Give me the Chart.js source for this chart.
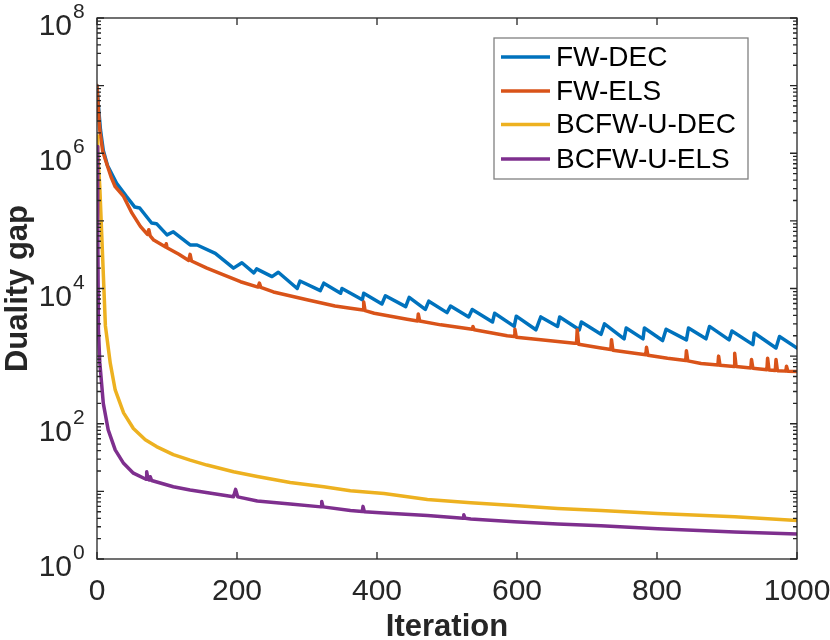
<!DOCTYPE html>
<html>
<head>
<meta charset="utf-8">
<title>Duality gap</title>
<script src="https://cdn.jsdelivr.net/npm/chart.js@4/dist/chart.umd.min.js"></script>
<style>
  body { margin: 0; background: #fff; }
  canvas { display: block; }
</style>
</head>
<body>
<canvas id="gapChart" width="830" height="640"></canvas>
<script>
// values (iteration, duality gap)
const seriesNames = ['FW-DEC', 'FW-ELS', 'BCFW-U-DEC', 'BCFW-U-ELS'];
const seriesColors = ['#0072BD', '#D95319', '#EDB120', '#7E2F8E'];

const fwDecIter = [0, 2, 5, 9, 15, 28, 42, 54, 61, 78, 85, 100, 109, 133, 143, 169, 195, 207, 224, 228, 250, 259,
  286, 290, 319, 324, 348, 350, 379, 381, 407, 412, 441, 446, 469, 474, 500, 505, 531, 536, 565, 568,
  596, 599, 627, 634, 658, 661, 689, 692, 720, 725, 753, 756, 780, 782, 808, 813, 842, 845, 870, 875,
  903, 907, 937, 939, 970, 975, 1000];
const fwDecGap = [1.0e7, 5.0e6, 2.2e6, 1.1e6, 6.6e5, 3.6e5, 2.3e5, 1.6e5, 1.55e5, 9.3e4, 9.1e4, 6.2e4, 6.9e4, 4.4e4, 4.4e4, 3.3e4, 2.0e4, 2.4e4, 1.7e4, 1.95e4, 1.5e4, 1.74e4,
  1.0e4, 1.29e4, 9.3e3, 1.2e4, 8.5e3, 1.0e4, 6.8e3, 8.5e3, 5.9e3, 7.8e3, 5.4e3, 7.4e3, 4.9e3, 6.5e3, 4.4e3, 5.5e3, 3.8e3, 4.9e3, 3.2e3, 4.3e3,
  2.75e3, 3.9e3, 2.45e3, 3.8e3, 2.75e3, 3.8e3, 2.45e3, 3.2e3, 2.1e3, 3.0e3, 1.8e3, 2.6e3, 1.8e3, 2.6e3, 1.7e3, 2.5e3, 1.74e3, 2.6e3, 1.8e3, 2.75e3,
  1.74e3, 2.35e3, 1.48e3, 2.2e3, 1.32e3, 1.95e3, 1.32e3];

const fwElsIter = [0, 2, 4, 8, 12, 20, 26, 38, 50, 62, 72, 74, 76, 81, 98, 99, 100, 117, 131, 133, 135, 157, 180, 205, 230, 232, 234,
  252, 300, 340, 362, 380, 381, 383, 396, 443, 458, 459, 461, 491, 536, 537, 539, 586, 596, 597, 599, 634, 682, 685, 686, 688,
  720, 734, 735, 737, 768, 784, 785, 787, 815, 841, 842, 844, 863, 887, 888, 890, 910, 911, 913, 934, 935, 937,
  957, 958, 960, 969, 970, 972, 984, 985, 987, 1000];
const fwElsGap = [1.0e7, 4.5e6, 2.2e6, 1.1e6, 8.0e5, 4.5e5, 3.2e5, 2.3e5, 1.3e5, 8.3e4, 6.3e4, 7.4e4, 6.0e4, 5.2e4, 4.1e4, 4.6e4, 4.0e4, 3.2e4, 2.6e4, 3.2e4, 2.55e4, 2.0e4, 1.6e4, 1.26e4, 1.05e4, 1.2e4, 1.04e4,
  8.9e3, 6.8e3, 5.5e3, 5.1e3, 4.8e3, 6.3e3, 4.7e3, 4.3e3, 3.5e3, 3.3e3, 4.2e3, 3.3e3, 2.9e3, 2.5e3, 2.75e3, 2.45e3, 2.0e3, 1.95e3, 2.5e3, 1.9e3, 1.74e3, 1.55e3, 1.55e3, 2.45e3, 1.5e3,
  1.32e3, 1.25e3, 1.74e3, 1.22e3, 1.1e3, 1.05e3, 1.35e3, 1.03e3, 930, 860, 1.2e3, 850, 780, 740, 1.0e3, 730, 705, 1.1e3, 700, 670, 890, 660,
  630, 930, 625, 615, 890, 610, 600, 710, 595, 590];

const bcDecIter = [0, 1, 4, 8, 12, 19, 26, 38, 52, 69, 85, 109, 133, 157, 195, 229, 276, 324, 362, 410, 472, 534, 596, 658, 720, 801, 911, 1000];
const bcDecGap = [1.8e6, 1.0e6, 3.2e5, 3.0e4, 2.8e3, 780, 316, 145, 85, 58, 46, 35, 29, 24.5, 19.5, 16.6, 13.5, 11.7, 10.2, 9.3, 7.6, 6.8, 6.2, 5.6, 5.2, 4.7, 4.2, 3.7];

const bcElsIter = [0, 1, 2, 4, 9, 16, 26, 38, 52, 70, 71, 73, 75, 76, 78, 109, 133, 195, 198, 201, 229, 276, 320, 321, 323, 362, 379, 380, 382,
  410, 472, 523, 524, 526, 534, 596, 658, 720, 801, 911, 1000];
const bcElsGap = [1.26e6, 1.0e5, 2.5e3, 800, 200, 81, 41, 26, 18.6, 15.1, 19.5, 15.0, 14.7, 16.5, 14.5, 11.7, 10.5, 8.3, 10.7, 8.3, 7.2, 6.5, 5.9, 7.1, 5.9, 5.2, 5.05, 6.0, 5.0,
  4.8, 4.4, 4.0, 4.5, 4.0, 3.9, 3.55, 3.3, 3.1, 2.8, 2.5, 2.35];

const xTicks = [0, 200, 400, 600, 800, 1000];
const yExponents = [0, 2, 4, 6, 8];

const FONT = '"Liberation Sans", Arial, Helvetica, sans-serif';
const AXIS_COLOR = '#262626';

function toPoints(iters, gaps) {
    return iters.map((it, i) => ({ x: it, y: gaps[i] }));
}

const allSeries = [
    toPoints(fwDecIter, fwDecGap),
    toPoints(fwElsIter, fwElsGap),
    toPoints(bcDecIter, bcDecGap),
    toPoints(bcElsIter, bcElsGap)
];

// axes box, inward ticks, tick labels, titles and legend, MATLAB style
const matlabAxes = {
    id: 'matlabAxes',
    afterDatasetsDraw(chart) {
        const c = chart.ctx;
        const a = chart.chartArea;
        const xs = chart.scales.x;
        const ys = chart.scales.y;
        c.save();
        c.strokeStyle = AXIS_COLOR;
        c.lineWidth = 1.3;
        c.strokeRect(a.left, a.top, a.right - a.left, a.bottom - a.top);

        c.beginPath();
        xTicks.forEach(v => {
            const px = xs.getPixelForValue(v);
            c.moveTo(px, a.bottom); c.lineTo(px, a.bottom - 7);
            c.moveTo(px, a.top); c.lineTo(px, a.top + 7);
        });
        for (let k = 0; k <= 8; k++) {
            const py = ys.getPixelForValue(Math.pow(10, k));
            c.moveTo(a.left, py); c.lineTo(a.left + 7, py);
            c.moveTo(a.right, py); c.lineTo(a.right - 7, py);
            if (k < 8) {
                for (let m = 2; m <= 9; m++) {
                    const pm = ys.getPixelForValue(m * Math.pow(10, k));
                    c.moveTo(a.left, pm); c.lineTo(a.left + 4, pm);
                    c.moveTo(a.right, pm); c.lineTo(a.right - 4, pm);
                }
            }
        }
        c.stroke();

        // tick labels
        c.fillStyle = AXIS_COLOR;
        c.font = '30px ' + FONT;
        c.textAlign = 'center';
        c.textBaseline = 'alphabetic';
        xTicks.forEach(v => {
            c.fillText(String(v), xs.getPixelForValue(v), a.bottom + 41);
        });
        yExponents.forEach(e => {
            const py = ys.getPixelForValue(Math.pow(10, e));
            c.font = '30px ' + FONT;
            c.textAlign = 'right';
            c.fillText('10', a.left - 25, py + 17);
            c.font = '21px ' + FONT;
            c.textAlign = 'left';
            c.fillText(String(e), a.left - 24, py);
        });

        // axis titles
        c.font = 'bold 31px ' + FONT;
        c.textAlign = 'center';
        c.fillText('Iteration', (a.left + a.right) / 2, a.bottom + 77);
        c.save();
        c.translate(27, (a.top + a.bottom) / 2);
        c.rotate(-Math.PI / 2);
        c.fillText('Duality gap', 0, 0);
        c.restore();

        // legend
        const lx = 494, ly = 38, lw = 254, lh = 141;
        c.fillStyle = '#ffffff';
        c.fillRect(lx, ly, lw, lh);
        c.strokeStyle = '#808080';
        c.lineWidth = 1.3;
        c.strokeRect(lx, ly, lw, lh);
        const rows = [57, 91, 124.5, 159];
        c.font = '28px ' + FONT;
        c.textAlign = 'left';
        c.textBaseline = 'middle';
        seriesNames.forEach((name, i) => {
            c.strokeStyle = seriesColors[i];
            c.lineWidth = 3.5;
            c.beginPath();
            c.moveTo(501, rows[i]); c.lineTo(550, rows[i]);
            c.stroke();
            c.fillStyle = '#000000';
            c.fillText(name, 556, rows[i] + 1);
        });
        c.restore();
    }
};

const ctx = document.getElementById('gapChart').getContext('2d');
const gapChart = new Chart(ctx, {
    type: 'line',
    data: {
        datasets: seriesNames.map((name, i) => ({
            label: name,
            data: allSeries[i],
            borderColor: seriesColors[i],
            borderWidth: 3.5,
            borderJoinStyle: 'round',
            borderCapStyle: 'round',
            pointRadius: 0,
            tension: 0,
            fill: false,
            order: 4 - i
        }))
    },
    options: {
        responsive: false,
        animation: false,
        layout: { padding: { left: 97, right: 33, top: 18, bottom: 81 } },
        plugins: { legend: { display: false }, tooltip: { enabled: false } },
        scales: {
            x: { type: 'linear', min: 0, max: 1000, display: false },
            y: { type: 'logarithmic', min: 1, max: 1e8, display: false }
        }
    },
    plugins: [matlabAxes]
});
</script>
</body>
</html>
